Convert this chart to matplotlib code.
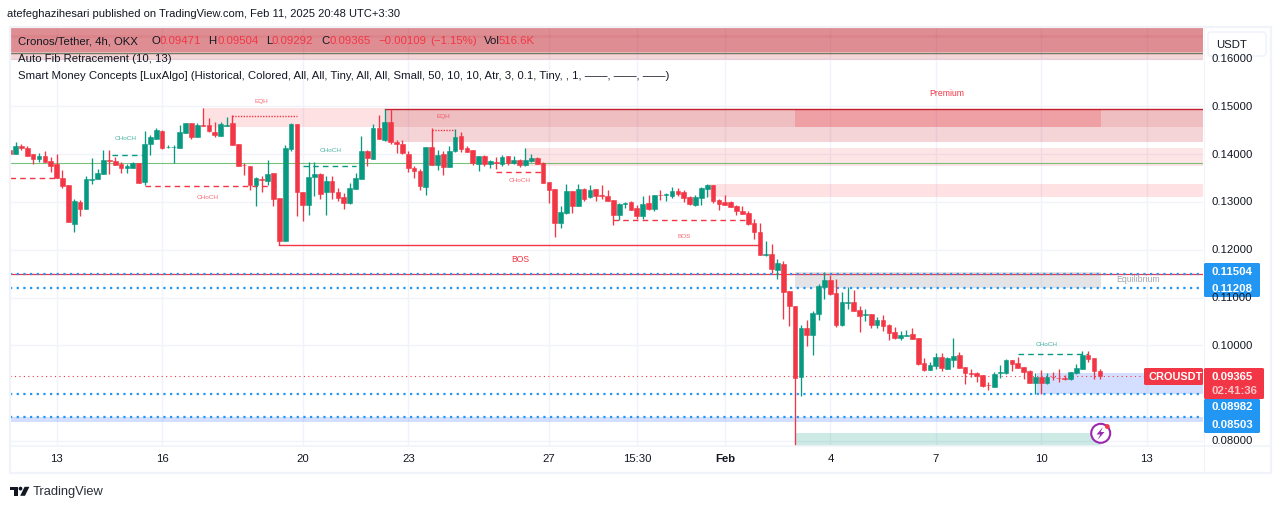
import matplotlib
matplotlib.use("Agg")
import matplotlib.pyplot as plt
from matplotlib.patches import Rectangle, FancyBboxPatch, Polygon, Circle
from matplotlib import font_manager as fm

# price values in units of 0.0001
opens = [1409.4,1401,1417.7,1413.6,1401,1390.6,1396.8,1387,1380.1,1350.8,1336.2,1254.6,1300.6,1286,1346.6,1348.7,1359.2,1388.5,1385.7,1380.1,
1370.3,1371.7,1380.8,1342.5,1421.9,1433,1449.1,1414.3,1415,1413.6,1444.9,1465.8,1435.9,1461,1461,1447,1438.6,1460.2,1465.8,1421.9,
1377.3,1375.9,1336.2,1348,1344.6,1361.3,1309,1217.7,1411.5,1463.7,1321.5,1293,1351.5,1359.2,1320.2,1344.6,1321.5,1310.4,1297.9,1327.8,
1348.7,1407.3,1390.6,1455.4,1430.3,1467.9,1426.1,1421.9,1401,1371.7,1365.5,1332,1415.6,1378,1401,1373.8,1407.3,1438.7,1413.6,1409.4,
1380.1,1396.8,1380.1,1383.6,1380.1,1396.8,1382.2,1388.5,1378,1386.4,1392.7,1382.2,1342.5,1327.8,1256.7,1277.6,1323.7,1292.3,1327.8,1311.1,
1327.8,1314.6,1313.2,1304.8,1273.5,1296.5,1300.7,1288.1,1271.4,1298.6,1286,1315.3,1314.6,1313.2,1323.7,1321.6,1311.1,1294.4,1309,1327.8,
1336.2,1304.8,1300.7,1300.7,1292.3,1281.9,1277.6,1256.7,1237.9,1189.8,1191.9,1158.5,1171.1,1114.6,1083.3,934.8,1037.3,1022.6,1066.5,1123,
1137.6,1110.5,1043.5,1089.5,1091.6,1074.9,1063.8,1066.5,1043.5,1054,1043.5,1028.9,1016.4,1020.5,1024.7,1016.4,964.1,949.5,957.8,976.6,
951.5,970.4,980.8,955.7,942.5,943.2,939,918.1,913.9,943.2,943.2,970.4,964.1,955.7,947.4,922.3,934.8,922.3,934.8,932.7,
932.7,930.6,943.2,951.5,980.8,974.5,947.1]
highs = [1409.4,1424.7,1421.9,1417.7,1401,1402.4,1407.3,1394,1401,1367.6,1336.2,1306.2,1303.4,1355,1392.6,1369,1408,1409.4,1394,1382.9,
1380.1,1384.3,1381.5,1448.4,1440.7,1454.7,1449.8,1418.4,1419.8,1461,1466.5,1466.5,1466.5,1497.2,1474.9,1468.6,1468.6,1478.4,1482.6,1421.9,
1381.5,1375.9,1352.9,1355,1388.5,1361.3,1309,1419.8,1466.5,1463.7,1321.5,1382.9,1382.9,1360.6,1355,1353.6,1328.5,1318.8,1339.7,1360.6,
1437.3,1408,1463.7,1481.9,1494.4,1494.4,1430.3,1428.9,1405.9,1375.9,1368.9,1415.6,1454.7,1408.7,1407.3,1417.8,1452.6,1447,1417.8,1409.4,
1396.8,1398.9,1388.5,1394.7,1398.9,1396.8,1396.8,1390.6,1413.6,1401,1394.7,1384.3,1342.5,1327.8,1292.3,1338.3,1323.7,1338.3,1330,1336.2,
1327.8,1336.2,1325.7,1304.8,1298.6,1300.7,1302.7,1294.4,1313.2,1315.3,1315.3,1325.7,1319.5,1332,1330,1325.7,1313.2,1315.3,1332,1338.3,
1336.2,1306.9,1315.3,1302.7,1294.4,1292.3,1281.9,1265.1,1256.7,1219.1,1212.9,1181.5,1177.4,1114.6,1083.3,1043.5,1054,1072.8,1129.3,1154.4,
1148.1,1139.7,1112.6,1123,1116.7,1083.3,1077,1066.5,1060.3,1064.5,1045.6,1039.4,1031,1033.1,1037.3,1016.4,974.5,966.2,985,985,
976.6,1016.4,987.1,955.7,951.5,945.3,939,924.4,945.3,959.9,972.5,970.4,975.9,955.7,949.5,942.5,949.5,942.5,945.3,951.5,
939,945.3,962,989.2,989.2,974.5,950.4]
lows = [1401,1401,1408,1396.8,1380.1,1384.3,1384.3,1362,1349.4,1329.9,1257.4,1236.5,1270,1286,1338.3,1348.7,1359.2,1359.2,1377.3,1360.6,
1360.6,1371.7,1339.7,1335.5,1397.5,1431.7,1411.5,1412.9,1381.5,1412.2,1444.9,1431,1435.9,1459.6,1447,1435.9,1438.6,1460.2,1419.8,1374.5,
1357.1,1324.3,1292.3,1320.2,1336.2,1290.9,1210,1217.7,1405.9,1271.4,1260.9,1273.5,1313.2,1306.2,1272,1306.9,1301.3,1286,1296.5,1327.8,
1348.7,1374.5,1390.6,1432.4,1426.8,1421.9,1402.4,1401,1362,1350.1,1325.7,1315.3,1378,1367.6,1357.1,1373.8,1405.2,1405.2,1405.2,1378,
1365.5,1376,1371.7,1369,1376,1378,1380.1,1373.8,1376,1384.3,1380.1,1340.4,1298.6,1227.5,1246.3,1275.6,1277.6,1292.3,1302.7,1309,
1302.7,1306.9,1302.7,1252.5,1263,1288.1,1284,1265.1,1265.1,1284,1281.9,1304.8,1302.7,1309,1313.2,1300.7,1294.4,1292.3,1294.4,1311.1,
1298.6,1284,1294.4,1290.2,1273.5,1275.6,1252.5,1223.3,1189.8,1187.7,1152.2,1139.7,1056.1,1041.5,790.5,895.1,999.6,980.8,1054,1097.9,
1106.3,1039.4,1041.5,1077,1072.8,1028.9,1051.9,1037.3,1037.3,1031,1012.2,1014.3,1012.2,1020.5,1014.3,959.9,947.4,949.5,951.5,947.4,
951.5,955.7,953.6,920.2,934.8,924.4,913.9,907.6,913.9,932.7,941.1,947.4,953.6,930.6,922.3,899.3,899.3,920.2,928.5,924.4,
928.5,928.5,941.1,951.5,966.2,930.6,929.2]
closes = [1401,1417.7,1412.2,1396.8,1390.6,1396.8,1384.3,1375.9,1349.4,1334.1,1257.4,1301.3,1286,1348.7,1348.7,1361.3,1388.5,1386.4,1377.3,1370.3,
1375.9,1380.8,1340.4,1421.9,1435.2,1449.8,1413.6,1416.3,1416.3,1447,1465.8,1436.6,1461.6,1459.6,1447.7,1439.4,1463.7,1462.3,1419.8,1375.9,
1376.6,1336.2,1350.8,1346.6,1359.2,1306.9,1217.7,1413.6,1463.7,1320.2,1293,1352.9,1359.2,1316,1344.6,1320.2,1309,1298.6,1329.9,1350.8,
1407.3,1391.2,1455.4,1432.4,1467.9,1425.4,1420.5,1401.7,1370.3,1365.5,1332.7,1415.6,1378,1398.9,1373.8,1407.3,1436.6,1411.5,1405.2,1382.2,
1396.8,1380.1,1386.4,1381.5,1394.7,1382.2,1388.5,1378,1388.5,1392.7,1380.1,1340.4,1325.7,1256.7,1279.7,1323.7,1292.3,1327.8,1306.9,1325.7,
1313.2,1313.2,1302.7,1273.5,1296.5,1297.9,1284,1271.4,1296.5,1286,1315.3,1313.9,1316,1323.7,1317.4,1309,1296.5,1311.1,1329.9,1336.2,
1302.7,1296.5,1294.4,1290.2,1281.9,1275.6,1254.6,1237.9,1189.8,1191.2,1160.6,1173.1,1112.6,1083.3,932.7,1037.3,1022.6,1068.6,1125.1,1137.6,
1108.4,1043.5,1091.6,1091.6,1072.8,1062.4,1066.5,1043.5,1054,1041.5,1026.8,1016.4,1022.6,1022.6,1014.3,962,949.5,959.9,976.6,953.6,
974.5,978.7,953.6,943.2,941.1,936.9,916,916.7,941.1,945.3,970.4,962,953.6,945.3,922.3,934.8,922.3,934.8,933.4,931.3,
929.2,945.3,953.6,980.8,972.5,947.4,936.5]

time_tick_pos = [8, 26, 50, 68, 92, 107, 122, 140, 158, 176, 194]
time_tick_labels = ["13", "16", "20", "23", "27", "15:30", "Feb", "4", "7", "10", "13"]
price_ticks = [0.08, 0.10, 0.11, 0.12, 0.13, 0.14, 0.15, 0.16]
fib_levels = [0.13812, 0.16125]
level_lines = [0.11504, 0.11208, 0.08982, 0.08503]
last_close = 0.09365

RED, GREEN, BLUE, INK = "#f23645", "#089981", "#2196f3", "#131722"
GRID = "#f0f3fa"
names = {f.name for f in fm.fontManager.ttflist}
NARROW = "Liberation Sans Narrow" if "Liberation Sans Narrow" in names else "Liberation Sans"
SANS = "Liberation Sans"

fig = plt.figure(figsize=(12.81, 5.09), dpi=100, facecolor="white")
W, H = 1281, 509
L, R, T, B = 10, 1203, 28, 445.5
ax = fig.add_axes([L / W, 1 - B / H, (R - L) / W, (B - T) / H])
ax.set_xlim(0.05, 203.6)
ax.set_ylim(0.07908, 0.16642)
for s in ax.spines.values():
    s.set_visible(False)
ax.set_xticks(time_tick_pos)
ax.set_yticks(price_ticks)
ax.tick_params(length=0, labelbottom=False, labelleft=False)
ax.grid(True, color=GRID, lw=1)
ax.set_axisbelow(True)
XR = 203.6


def zone(x0, x1, p0, p1, color, alpha):
    ax.add_patch(Rectangle((x0, p0), x1 - x0, p1 - p0, fc=color, alpha=alpha, lw=0, zorder=1))


# Top stacked fib zones
zone(0.05, XR, 0.1614, 0.16642, "#be1e28", 0.5)
zone(0.05, XR, 0.16077, 0.1614, "#be1e28", 0.3)
zone(0.05, XR, 0.15973, 0.16077, "#be1e28", 0.18)
zone(0.05, XR, 0.16430, 0.16500, "#be1e28", 0.08)
# Premium zones
zone(33, 64, 0.14577, 0.14969, RED, 0.15)
zone(64, XR, 0.14577, 0.14948, "#c82832", 0.3)
zone(64, XR, 0.14264, 0.14577, "#c82832", 0.2)
zone(134, 186.2, 0.14577, 0.14948, RED, 0.22)
zone(88, XR, 0.13755, 0.14126, RED, 0.13)
zone(119.1, XR, 0.13113, 0.13372, RED, 0.15)
# Equilibrium / discount
zone(134, 186.2, 0.11203, 0.11544, "#787b86", 0.2)
zone(175.2, XR, 0.08979, 0.09418, "#2962ff", 0.2)
zone(0.05, XR, 0.08406, 0.0851, "#2962ff", 0.2)
zone(134, 186.2, 0.0790, 0.08176, GREEN, 0.2)

# horizontal structure lines
ax.axhline(fib_levels[0], color="#4caf50", lw=0.8, alpha=0.75, zorder=2)
ax.axhline(fib_levels[1], color="#4c6f50", lw=0.8, alpha=0.8, zorder=2)
ax.plot([64, XR], [0.14948, 0.14948], color="#c2202c", lw=1, zorder=2)
ax.plot([46, 128], [0.12096, 0.12096], color=RED, lw=1, zorder=2)
ax.plot([0.05, XR], [0.1150, 0.1150], color=RED, lw=0.9, zorder=2)
for lv in level_lines:
    ax.plot([0.05, XR], [lv, lv], color=BLUE, lw=1.6, ls=(0, (1, 2)), zorder=3)
ax.plot([0.05, XR], [last_close, last_close], color=RED, lw=0.8, ls=(0, (1, 3)), zorder=3)

# SMC annotations: (x0, x1, price, colour, dash)
dash = (0, (4, 3))
dots = (0, (1, 1))
smc_lines = [
    (17.5, 22.8, 0.13985, GREEN, dash, "CHoCH", 126, 138.5),
    (0.05, 8, 0.13505, RED, dash, None, 0, 0),
    (23, 45.5, 0.13338, RED, dash, "CHoCH", 208, 197.5),
    (50, 59, 0.13745, GREEN, dash, "CHoCH", 331, 150),
    (38, 49, 0.14806, RED, dots, "EQH", 261, 101),
    (72, 76, 0.14509, RED, dots, "EQH", 443, 116.5),
    (83, 91, 0.13634, RED, dash, "CHoCH", 519.5, 180.5),
    (103, 126, 0.12620, RED, dash, "BOS", 684, 237),
    (172, 184, 0.09830, GREEN, dash, "CHoCH", 1047, 345),
]
for x0, x1, p, c, st, lab, lx, ly in smc_lines:
    ax.plot([x0, x1], [p, p], color=c, lw=1, ls=st, zorder=3)
    if st is dots:
        ax.plot([x0, x0], [p, p - 0.0012], color=c, lw=0.8, zorder=3)

# candles
for i, (o, h, l, c) in enumerate(zip(opens, highs, lows, closes)):
    col = GREEN if c >= o else RED
    ax.plot([i, i], [l / 1e4, h / 1e4], color=col, lw=0.95, zorder=4, solid_capstyle="butt", clip_on=True)
    ax.bar(i, abs(c - o) / 1e4, bottom=min(o, c) / 1e4, width=0.8, color=col, edgecolor=col, lw=0.4, zorder=5)

# pixel overlay
ov = fig.add_axes([0, 0, 1, 1], facecolor="none")
ov.set_xlim(0, W)
ov.set_ylim(H, 0)
ov.axis("off")


def txt(x, y, s, size=8, color=INK, ha="left", family=SANS, **kw):
    return ov.text(x, y, s, fontsize=size, color=color, ha=ha, va="center", family=family, zorder=20, **kw)


# frame
ov.add_patch(Rectangle((9.5, 27), 1261.5, 446, fc="none", ec=GRID, lw=1.6))
ov.plot([9.5, 1271], [445.5, 445.5], color=GRID, lw=1.2)
ov.plot([1203.5, 1203.5], [27, 473], color=GRID, lw=0.8)

# smc labels
for x0, x1, p, c, st, lab, lx, ly in smc_lines:
    if lab:
        txt(lx, ly, lab, size=4.6, color=c, ha="center", alpha=0.75)
txt(520, 260, "BOS", size=6.2, color=RED, ha="center", family=NARROW)
txt(947, 93, "Premium", size=6.2, color=RED, ha="center")
txt(1138, 280, "Equilibrium", size=6.3, color="#9a9da6", ha="center", alpha=0.9)

# header and legends
txt(7, 14, "atefeghazihesari published on TradingView.com, Feb 11, 2025 20:48 UTC+3:30", size=8.0, family=NARROW)
txt(18, 41, "Cronos/Tether, 4h, OKX", size=8.2, family=NARROW)
legend_parts = [(151, "O", INK), (159.5, "0.09471", RED), (208.5, "H", INK), (217, "0.09504", RED),
                (266, "L", INK), (272, "0.09292", RED), (321.5, "C", INK), (329, "0.09365", RED),
                (378.5, "\u22120.00109", RED), (430, "(\u22121.15%)", RED), (483.5, "Vol", INK), (499, "516.6K", RED)]
for x, s, c in legend_parts:
    txt(x, 41, s, size=8.2, color=c, family=NARROW)
txt(18, 59, "Auto Fib Retracement (10, 13)", size=8.2, family=NARROW)
txt(18, 76, "Smart Money Concepts [LuxAlgo] (Historical, Colored, All, All, Tiny, All, All, Small, 50, 10, 10, Atr, 3, 0.1, Tiny, , 1, \u2014\u2014, \u2014\u2014, \u2014\u2014)",
    size=8.2, family=NARROW)

# price axis
price_axis_y = {0.16: 58.7, 0.15: 106.5, 0.14: 154.5, 0.13: 202.3, 0.12: 250.1, 0.11: 298, 0.10: 346, 0.08: 441}
for p in price_ticks:
    txt(1212, price_axis_y[p], f"{p:.5f}", size=8.2)

# time axis
x_px = lambda i: 9.7 + 5.862 * i
for pos, lab in zip(time_tick_pos, time_tick_labels):
    txt(x_px(pos), 459, lab, size=8.2, ha="center", fontweight="bold" if lab == "Feb" else "normal")

# USDT button
ov.add_patch(FancyBboxPatch((1208, 32), 58, 24, boxstyle="round,pad=0,rounding_size=3", fc="white", ec=GRID, lw=1.2, zorder=18))
txt(1216, 44.5, "USDT", size=8.2)


def tag(x0, y0, x1, y1, color):
    ov.add_patch(FancyBboxPatch((x0, y0), x1 - x0, y1 - y0, boxstyle="round,pad=0,rounding_size=1.5", fc=color, lw=0, zorder=18))


# blue level tags
tag(1204, 263, 1260, 297, BLUE)
tag(1204, 399, 1260, 433, BLUE)
txt(1212, 272, "0.11504", size=8.2, color="white", fontweight="bold")
txt(1212, 288.5, "0.11208", size=8.2, color="white", fontweight="bold")
txt(1212, 407.5, "0.08982", size=8.2, color="white", fontweight="bold")
txt(1212, 424.5, "0.08503", size=8.2, color="white", fontweight="bold")
# last price
tag(1204, 368, 1264, 399, RED)
tag(1144, 368, 1203, 385, RED)
txt(1212, 377, "0.09365", size=8.2, color="white", fontweight="bold")
txt(1212, 391, "02:41:36", size=8.2, color="#fbc5ca", fontweight="bold")
txt(1148.5, 377, "CROUSDT", size=7.9, color="white", fontweight="bold", family=NARROW)

# bolt icon
ov.add_patch(Circle((1100.7, 433.3), 9.5, fc="white", ec="#9c27b0", lw=1.5, zorder=18))
ov.add_patch(Polygon([(1103, 427), (1096.5, 434.5), (1100.3, 434.5), (1097.5, 440), (1104.5, 432), (1100.6, 432)], fc="#9c27b0", lw=0, zorder=19))
ov.add_patch(Circle((1107.3, 426.5), 2.4, fc=RED, lw=0, zorder=19))

# logo
ov.add_patch(Polygon([(10, 486.8), (18, 486.8), (18, 495.8), (14, 495.8), (14, 490.2), (10, 490.2)], fc=INK, lw=0))
ov.add_patch(Circle((20.5, 488.6), 1.9, fc=INK, lw=0))
ov.add_patch(Polygon([(24.6, 486.8), (29.4, 486.8), (25, 495.8), (20.2, 495.8)], fc=INK, lw=0))
txt(33, 491.5, "TradingView", size=9.3, color="#2a2e39", family="Liberation Sans")

for name, arr in [("o", opens), ("h", highs), ("l", lows), ("c", closes)]:
    assert len(arr) == 187, (name, len(arr))

fig.savefig("out.png", dpi=100)
